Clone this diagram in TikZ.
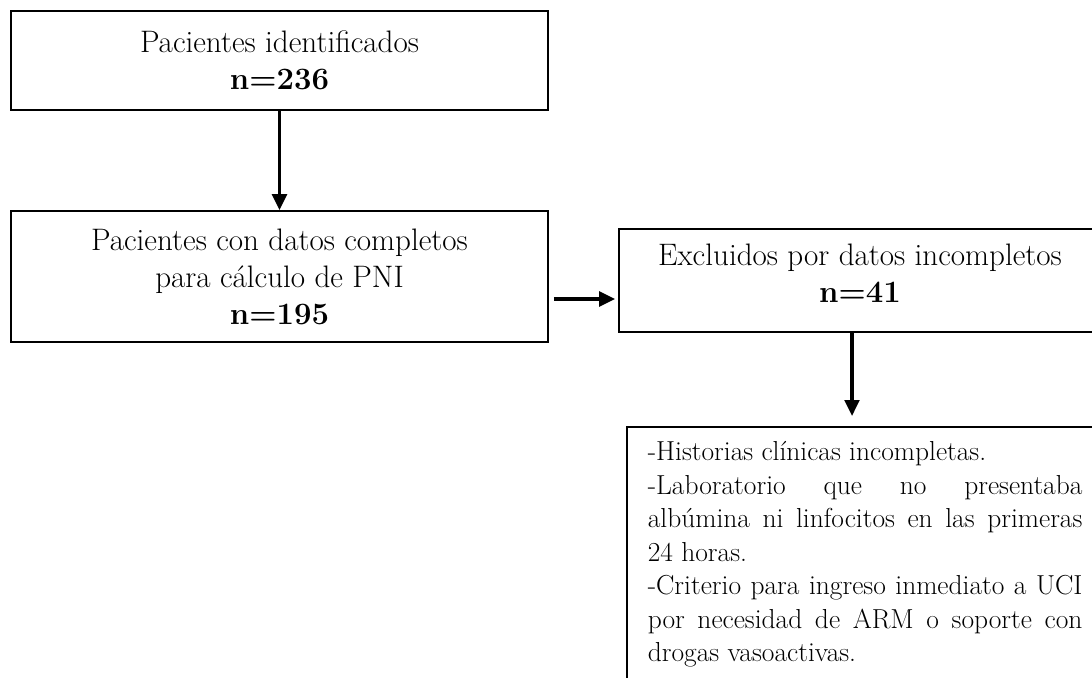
\documentclass[tikz,border=0pt]{standalone}
\usetikzlibrary{arrows.meta}
\begin{document}
\begin{tikzpicture}[x=0.75pt,y=-0.75pt,
  box/.style={draw, line width=1.2pt, align=center, inner sep=0pt,
    font=\fontsize{23.3}{27.75}\selectfont},
  arr/.style={line width=2.4pt, -{Triangle[length=12pt,width=11pt]}}]
\useasboundingbox (0,0) rectangle (1092,678);
\node[box, line width=0.8pt, minimum width=402.75pt, minimum height=74.25pt] (b1) at (279.5,60.5)
  {Pacientes identificados\\\textbf{n=236}};
\node[box, minimum width=402.75pt, minimum height=98.25pt] (b2) at (279.5,276.5)
  {Pacientes con datos completos\\para cálculo de PNI\\\textbf{n=195}};
\node[box, minimum width=361.5pt, minimum height=77.25pt] (b3) at (860,280.5)
  {Excluidos por datos incompletos\\\textbf{n=41}\rule[-11pt]{0pt}{0pt}};
\node[draw, line width=1.2pt, anchor=north west, inner xsep=15.75pt, inner ysep=11.2pt,
  text width=326pt, align=justify, font=\fontsize{20.6}{25.1}\selectfont] (b4) at (626,426)
  {-Historias clínicas incompletas.\par
   -Laboratorio que no presentaba\linebreak albúmina ni linfocitos en las primeras\linebreak 24 horas.\par
   -Criterio para ingreso inmediato a UCI\linebreak por necesidad de ARM o soporte con\linebreak drogas vasoactivas.\rule[-12pt]{0pt}{12pt}};
\coordinate (h) at (0,299);
\coordinate (v) at (852,0);
\draw[arr] (b1.south) -- (b2.north);
\draw[arr, shorten <=3.75pt, shorten >=2.25pt] (b2.east |- h) -- (b3.west |- h);
\draw[arr, shorten >=7.5pt] (b3.south -| v) -- (b4.north -| v);
\end{tikzpicture}
\end{document}
